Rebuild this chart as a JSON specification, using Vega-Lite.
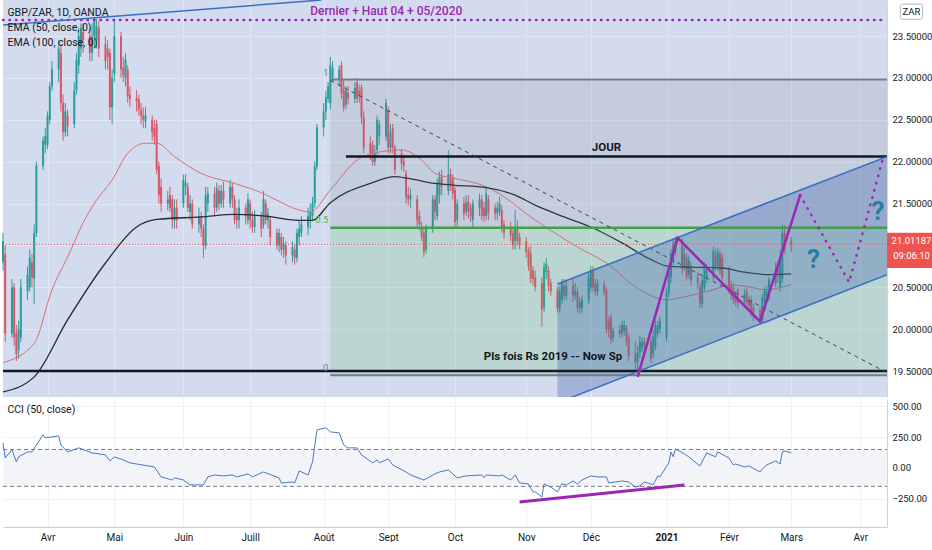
{
"$schema": "https://vega.github.io/schema/vega-lite/v6.json",
"padding": 0,
"background": "white",
"spacing": 2,
"config": {"view": {"stroke": null}, "font": "Roboto",
  "axisY": {"orient": "right", "title": null, "ticks": false, "domainColor": "#d1d4dc", "grid": true, "labelPadding": 5, "labelFontSize": 9.5, "labelColor": "#131722"}},
"datasets": {
"candles": [
{"d":"2020-03-12","o":20.80,"h":21.15,"l":20.70,"c":21.05},
{"d":"2020-03-13","o":20.90,"h":21.00,"l":19.85,"c":19.95},
{"d":"2020-03-16","o":19.95,"h":20.60,"l":19.90,"c":20.50},
{"d":"2020-03-17","o":20.50,"h":20.55,"l":19.80,"c":19.90},
{"d":"2020-03-18","o":19.95,"h":20.05,"l":19.62,"c":19.70},
{"d":"2020-03-19","o":19.75,"h":20.10,"l":19.65,"c":20.00},
{"d":"2020-03-20","o":19.90,"h":20.60,"l":19.85,"c":20.50},
{"d":"2020-03-23","o":20.45,"h":20.75,"l":20.35,"c":20.65},
{"d":"2020-03-24","o":20.50,"h":20.95,"l":20.45,"c":20.85},
{"d":"2020-03-25","o":20.80,"h":20.90,"l":20.50,"c":20.62},
{"d":"2020-03-26","o":20.60,"h":21.25,"l":20.30,"c":21.15},
{"d":"2020-03-27","o":21.15,"h":22.00,"l":21.10,"c":21.95},
{"d":"2020-03-30","o":21.95,"h":22.30,"l":21.90,"c":22.25},
{"d":"2020-03-31","o":22.20,"h":22.40,"l":22.10,"c":22.30},
{"d":"2020-04-01","o":22.20,"h":22.60,"l":22.15,"c":22.55},
{"d":"2020-04-02","o":22.50,"h":22.95,"l":22.45,"c":22.90},
{"d":"2020-04-03","o":22.90,"h":23.20,"l":22.85,"c":23.10},
{"d":"2020-04-06","o":23.10,"h":23.45,"l":22.95,"c":23.35},
{"d":"2020-04-07","o":23.30,"h":23.40,"l":22.60,"c":22.70},
{"d":"2020-04-08","o":22.70,"h":22.80,"l":22.25,"c":22.35},
{"d":"2020-04-09","o":22.35,"h":22.70,"l":22.30,"c":22.60},
{"d":"2020-04-10","o":22.55,"h":22.62,"l":22.30,"c":22.42},
{"d":"2020-04-13","o":22.45,"h":22.95,"l":22.40,"c":22.85},
{"d":"2020-04-14","o":22.85,"h":23.30,"l":22.80,"c":23.22},
{"d":"2020-04-15","o":23.15,"h":23.60,"l":23.05,"c":23.50},
{"d":"2020-04-16","o":23.35,"h":23.65,"l":23.25,"c":23.60},
{"d":"2020-04-17","o":23.55,"h":23.65,"l":23.30,"c":23.45},
{"d":"2020-04-20","o":23.50,"h":23.60,"l":23.20,"c":23.30},
{"d":"2020-04-21","o":23.30,"h":23.65,"l":23.20,"c":23.50},
{"d":"2020-04-22","o":23.50,"h":23.72,"l":23.35,"c":23.68},
{"d":"2020-04-23","o":23.45,"h":23.70,"l":23.35,"c":23.62},
{"d":"2020-04-24","o":23.60,"h":23.68,"l":23.25,"c":23.35},
{"d":"2020-04-27","o":23.40,"h":23.50,"l":23.10,"c":23.20},
{"d":"2020-04-28","o":23.35,"h":23.45,"l":23.10,"c":23.25},
{"d":"2020-04-29","o":23.30,"h":23.35,"l":22.50,"c":22.65},
{"d":"2020-04-30","o":22.65,"h":23.10,"l":22.45,"c":23.00},
{"d":"2020-05-01","o":23.05,"h":23.71,"l":22.95,"c":23.50},
{"d":"2020-05-04","o":23.50,"h":23.55,"l":23.00,"c":23.10},
{"d":"2020-05-05","o":23.12,"h":23.25,"l":22.95,"c":23.03},
{"d":"2020-05-06","o":23.00,"h":23.30,"l":22.90,"c":23.22},
{"d":"2020-05-07","o":23.10,"h":23.15,"l":22.70,"c":22.78},
{"d":"2020-05-08","o":22.80,"h":22.90,"l":22.65,"c":22.75},
{"d":"2020-05-11","o":22.76,"h":22.85,"l":22.60,"c":22.72},
{"d":"2020-05-12","o":22.74,"h":22.80,"l":22.55,"c":22.62},
{"d":"2020-05-13","o":22.62,"h":22.70,"l":22.45,"c":22.55},
{"d":"2020-05-14","o":22.55,"h":22.65,"l":22.40,"c":22.50},
{"d":"2020-05-15","o":22.48,"h":22.65,"l":22.40,"c":22.55},
{"d":"2020-05-18","o":22.50,"h":22.55,"l":22.25,"c":22.35},
{"d":"2020-05-19","o":22.40,"h":22.50,"l":22.20,"c":22.30},
{"d":"2020-05-20","o":22.45,"h":22.50,"l":21.85,"c":21.90},
{"d":"2020-05-21","o":21.95,"h":22.00,"l":21.50,"c":21.60},
{"d":"2020-05-22","o":21.70,"h":21.80,"l":21.40,"c":21.50},
{"d":"2020-05-25","o":21.50,"h":21.65,"l":21.42,"c":21.55},
{"d":"2020-05-26","o":21.60,"h":21.70,"l":21.40,"c":21.45},
{"d":"2020-05-27","o":21.55,"h":21.60,"l":21.20,"c":21.30},
{"d":"2020-05-28","o":21.30,"h":21.55,"l":21.20,"c":21.45},
{"d":"2020-05-29","o":21.45,"h":21.55,"l":21.20,"c":21.30},
{"d":"2020-06-01","o":21.50,"h":21.85,"l":21.45,"c":21.78},
{"d":"2020-06-02","o":21.70,"h":21.85,"l":21.60,"c":21.75},
{"d":"2020-06-03","o":21.70,"h":21.75,"l":21.40,"c":21.45},
{"d":"2020-06-04","o":21.40,"h":21.60,"l":21.30,"c":21.50},
{"d":"2020-06-05","o":21.50,"h":21.55,"l":21.20,"c":21.25},
{"d":"2020-06-08","o":21.25,"h":21.45,"l":21.15,"c":21.35},
{"d":"2020-06-09","o":21.35,"h":21.40,"l":21.10,"c":21.20},
{"d":"2020-06-10","o":21.20,"h":21.25,"l":20.85,"c":21.00},
{"d":"2020-06-11","o":21.00,"h":21.70,"l":20.95,"c":21.60},
{"d":"2020-06-12","o":21.50,"h":21.70,"l":21.40,"c":21.62},
{"d":"2020-06-15","o":21.62,"h":21.70,"l":21.35,"c":21.45},
{"d":"2020-06-16","o":21.45,"h":21.75,"l":21.40,"c":21.68},
{"d":"2020-06-17","o":21.65,"h":21.72,"l":21.42,"c":21.50},
{"d":"2020-06-18","o":21.50,"h":21.72,"l":21.45,"c":21.65},
{"d":"2020-06-19","o":21.65,"h":21.76,"l":21.45,"c":21.55},
{"d":"2020-06-22","o":21.50,"h":21.78,"l":21.45,"c":21.70},
{"d":"2020-06-23","o":21.70,"h":21.75,"l":21.45,"c":21.55},
{"d":"2020-06-24","o":21.55,"h":21.60,"l":21.25,"c":21.30},
{"d":"2020-06-25","o":21.35,"h":21.45,"l":21.20,"c":21.30},
{"d":"2020-06-26","o":21.30,"h":21.55,"l":21.20,"c":21.45},
{"d":"2020-06-29","o":21.45,"h":21.50,"l":21.25,"c":21.35},
{"d":"2020-06-30","o":21.30,"h":21.62,"l":21.25,"c":21.55},
{"d":"2020-07-01","o":21.50,"h":21.55,"l":21.20,"c":21.30},
{"d":"2020-07-02","o":21.30,"h":21.40,"l":21.15,"c":21.22},
{"d":"2020-07-03","o":21.22,"h":21.42,"l":21.15,"c":21.35},
{"d":"2020-07-06","o":21.35,"h":21.40,"l":21.10,"c":21.20},
{"d":"2020-07-07","o":21.25,"h":21.65,"l":21.20,"c":21.55},
{"d":"2020-07-08","o":21.50,"h":21.55,"l":21.25,"c":21.30},
{"d":"2020-07-09","o":21.30,"h":21.45,"l":21.20,"c":21.38},
{"d":"2020-07-10","o":21.30,"h":21.35,"l":21.00,"c":21.10},
{"d":"2020-07-13","o":21.15,"h":21.20,"l":20.95,"c":21.00},
{"d":"2020-07-14","o":21.00,"h":21.20,"l":20.92,"c":21.15},
{"d":"2020-07-15","o":21.10,"h":21.15,"l":20.88,"c":20.95},
{"d":"2020-07-16","o":20.95,"h":21.10,"l":20.85,"c":21.02},
{"d":"2020-07-17","o":21.00,"h":21.05,"l":20.77,"c":20.88},
{"d":"2020-07-20","o":20.88,"h":21.05,"l":20.80,"c":20.98},
{"d":"2020-07-21","o":20.95,"h":21.02,"l":20.77,"c":20.85},
{"d":"2020-07-22","o":20.85,"h":21.20,"l":20.80,"c":21.15},
{"d":"2020-07-23","o":21.10,"h":21.30,"l":21.00,"c":21.20},
{"d":"2020-07-24","o":21.15,"h":21.35,"l":21.10,"c":21.25},
{"d":"2020-07-27","o":21.22,"h":21.45,"l":21.12,"c":21.35},
{"d":"2020-07-28","o":21.30,"h":21.50,"l":21.20,"c":21.40},
{"d":"2020-07-29","o":21.35,"h":21.58,"l":21.30,"c":21.50},
{"d":"2020-07-30","o":21.50,"h":22.00,"l":21.45,"c":21.94},
{"d":"2020-07-31","o":21.94,"h":22.45,"l":21.90,"c":22.41},
{"d":"2020-08-03","o":22.41,"h":22.70,"l":22.30,"c":22.60},
{"d":"2020-08-04","o":22.60,"h":22.85,"l":22.50,"c":22.77},
{"d":"2020-08-05","o":22.75,"h":22.95,"l":22.70,"c":22.90},
{"d":"2020-08-06","o":22.70,"h":23.25,"l":22.62,"c":23.15},
{"d":"2020-08-07","o":23.00,"h":23.20,"l":22.95,"c":23.12},
{"d":"2020-08-10","o":22.98,"h":23.15,"l":22.90,"c":23.10},
{"d":"2020-08-11","o":23.15,"h":23.20,"l":22.75,"c":22.82},
{"d":"2020-08-12","o":22.86,"h":22.98,"l":22.60,"c":22.65},
{"d":"2020-08-13","o":22.68,"h":22.90,"l":22.62,"c":22.85},
{"d":"2020-08-14","o":22.82,"h":22.90,"l":22.68,"c":22.75},
{"d":"2020-08-17","o":22.75,"h":22.95,"l":22.70,"c":22.88},
{"d":"2020-08-18","o":22.95,"h":23.00,"l":22.70,"c":22.75},
{"d":"2020-08-19","o":22.85,"h":22.92,"l":22.70,"c":22.78},
{"d":"2020-08-20","o":22.89,"h":22.92,"l":22.45,"c":22.53},
{"d":"2020-08-21","o":22.53,"h":22.60,"l":22.10,"c":22.17},
{"d":"2020-08-24","o":22.22,"h":22.30,"l":22.02,"c":22.10},
{"d":"2020-08-25","o":22.20,"h":22.25,"l":21.95,"c":22.00},
{"d":"2020-08-26","o":22.00,"h":22.20,"l":21.95,"c":22.10},
{"d":"2020-08-27","o":22.14,"h":22.55,"l":22.05,"c":22.50},
{"d":"2020-08-28","o":22.30,"h":22.50,"l":22.20,"c":22.45},
{"d":"2020-08-31","o":22.30,"h":22.75,"l":22.25,"c":22.70},
{"d":"2020-09-01","o":22.62,"h":22.66,"l":22.10,"c":22.17},
{"d":"2020-09-02","o":22.17,"h":22.45,"l":22.10,"c":22.35},
{"d":"2020-09-03","o":22.40,"h":22.45,"l":22.10,"c":22.17},
{"d":"2020-09-04","o":22.17,"h":22.20,"l":21.85,"c":21.90},
{"d":"2020-09-07","o":22.10,"h":22.15,"l":21.90,"c":21.98},
{"d":"2020-09-08","o":22.00,"h":22.08,"l":21.88,"c":21.95},
{"d":"2020-09-09","o":21.86,"h":21.90,"l":21.50,"c":21.58},
{"d":"2020-09-10","o":21.60,"h":21.70,"l":21.48,"c":21.55},
{"d":"2020-09-11","o":21.55,"h":21.68,"l":21.45,"c":21.60},
{"d":"2020-09-14","o":21.55,"h":21.60,"l":21.22,"c":21.30},
{"d":"2020-09-15","o":21.35,"h":21.42,"l":21.18,"c":21.25},
{"d":"2020-09-16","o":21.22,"h":21.28,"l":21.05,"c":21.10},
{"d":"2020-09-17","o":21.15,"h":21.20,"l":20.86,"c":20.92},
{"d":"2020-09-18","o":20.95,"h":21.25,"l":20.90,"c":21.20},
{"d":"2020-09-21","o":21.22,"h":21.60,"l":21.15,"c":21.55},
{"d":"2020-09-22","o":21.55,"h":21.60,"l":21.30,"c":21.40},
{"d":"2020-09-23","o":21.35,"h":21.80,"l":21.30,"c":21.75},
{"d":"2020-09-24","o":21.60,"h":21.88,"l":21.50,"c":21.82},
{"d":"2020-09-25","o":21.82,"h":21.90,"l":21.60,"c":21.70},
{"d":"2020-09-28","o":21.65,"h":22.14,"l":21.60,"c":21.85},
{"d":"2020-09-29","o":21.85,"h":21.92,"l":21.65,"c":21.72},
{"d":"2020-09-30","o":21.80,"h":21.85,"l":21.55,"c":21.62},
{"d":"2020-10-01","o":21.66,"h":21.70,"l":21.20,"c":21.28},
{"d":"2020-10-02","o":21.30,"h":21.55,"l":21.22,"c":21.50},
{"d":"2020-10-05","o":21.50,"h":21.58,"l":21.30,"c":21.38},
{"d":"2020-10-06","o":21.40,"h":21.60,"l":21.35,"c":21.52},
{"d":"2020-10-07","o":21.52,"h":21.60,"l":21.32,"c":21.40},
{"d":"2020-10-08","o":21.45,"h":21.50,"l":21.28,"c":21.35},
{"d":"2020-10-09","o":21.30,"h":21.55,"l":21.20,"c":21.50},
{"d":"2020-10-12","o":21.45,"h":21.62,"l":21.35,"c":21.55},
{"d":"2020-10-13","o":21.55,"h":21.60,"l":21.30,"c":21.35},
{"d":"2020-10-14","o":21.45,"h":21.52,"l":21.28,"c":21.35},
{"d":"2020-10-15","o":21.35,"h":21.70,"l":21.30,"c":21.62},
{"d":"2020-10-16","o":21.55,"h":21.60,"l":21.30,"c":21.38},
{"d":"2020-10-19","o":21.45,"h":21.50,"l":21.30,"c":21.38},
{"d":"2020-10-20","o":21.38,"h":21.52,"l":21.30,"c":21.45},
{"d":"2020-10-21","o":21.40,"h":21.58,"l":21.35,"c":21.50},
{"d":"2020-10-22","o":21.42,"h":21.48,"l":21.15,"c":21.22},
{"d":"2020-10-23","o":21.25,"h":21.30,"l":21.08,"c":21.15},
{"d":"2020-10-26","o":21.20,"h":21.28,"l":21.05,"c":21.12},
{"d":"2020-10-27","o":21.15,"h":21.20,"l":20.95,"c":21.00},
{"d":"2020-10-28","o":21.05,"h":21.42,"l":20.95,"c":21.20},
{"d":"2020-10-29","o":21.20,"h":21.30,"l":21.00,"c":21.05},
{"d":"2020-10-30","o":21.10,"h":21.15,"l":20.95,"c":21.00},
{"d":"2020-11-02","o":21.05,"h":21.10,"l":20.85,"c":20.92},
{"d":"2020-11-03","o":20.94,"h":20.98,"l":20.70,"c":20.75},
{"d":"2020-11-04","o":20.90,"h":21.00,"l":20.55,"c":20.60},
{"d":"2020-11-05","o":20.70,"h":20.75,"l":20.52,"c":20.60},
{"d":"2020-11-06","o":20.62,"h":20.70,"l":20.45,"c":20.50},
{"d":"2020-11-09","o":20.55,"h":20.62,"l":20.03,"c":20.23},
{"d":"2020-11-10","o":20.26,"h":20.80,"l":20.20,"c":20.74},
{"d":"2020-11-11","o":20.68,"h":20.85,"l":20.60,"c":20.78},
{"d":"2020-11-12","o":20.70,"h":20.75,"l":20.45,"c":20.52},
{"d":"2020-11-13","o":20.55,"h":20.60,"l":20.40,"c":20.45},
{"d":"2020-11-16","o":20.47,"h":20.50,"l":20.20,"c":20.25},
{"d":"2020-11-17","o":20.25,"h":20.50,"l":20.20,"c":20.45},
{"d":"2020-11-18","o":20.35,"h":20.60,"l":20.30,"c":20.55},
{"d":"2020-11-19","o":20.52,"h":20.60,"l":20.35,"c":20.40},
{"d":"2020-11-20","o":20.40,"h":20.58,"l":20.35,"c":20.52},
{"d":"2020-11-23","o":20.52,"h":20.60,"l":20.32,"c":20.40},
{"d":"2020-11-24","o":20.40,"h":20.55,"l":20.35,"c":20.45},
{"d":"2020-11-25","o":20.45,"h":20.50,"l":20.20,"c":20.25},
{"d":"2020-11-26","o":20.25,"h":20.38,"l":20.18,"c":20.32},
{"d":"2020-11-27","o":20.25,"h":20.40,"l":20.20,"c":20.35},
{"d":"2020-11-30","o":20.35,"h":20.68,"l":20.30,"c":20.62},
{"d":"2020-12-01","o":20.50,"h":20.75,"l":20.45,"c":20.70},
{"d":"2020-12-02","o":20.70,"h":20.75,"l":20.45,"c":20.50},
{"d":"2020-12-03","o":20.55,"h":20.60,"l":20.40,"c":20.45},
{"d":"2020-12-04","o":20.45,"h":20.60,"l":20.40,"c":20.55},
{"d":"2020-12-07","o":20.52,"h":20.58,"l":20.40,"c":20.45},
{"d":"2020-12-08","o":20.47,"h":20.50,"l":19.95,"c":20.00},
{"d":"2020-12-09","o":20.10,"h":20.15,"l":19.90,"c":20.00},
{"d":"2020-12-10","o":20.14,"h":20.18,"l":19.82,"c":19.87},
{"d":"2020-12-11","o":19.90,"h":20.02,"l":19.85,"c":19.98},
{"d":"2020-12-14","o":19.99,"h":20.05,"l":19.90,"c":19.95},
{"d":"2020-12-15","o":19.95,"h":20.10,"l":19.90,"c":20.05},
{"d":"2020-12-16","o":19.98,"h":20.10,"l":19.92,"c":20.05},
{"d":"2020-12-17","o":20.02,"h":20.05,"l":19.80,"c":19.85},
{"d":"2020-12-18","o":19.90,"h":19.95,"l":19.62,"c":19.68},
{"d":"2020-12-21","o":19.71,"h":19.85,"l":19.52,"c":19.60},
{"d":"2020-12-22","o":19.60,"h":19.80,"l":19.45,"c":19.72},
{"d":"2020-12-23","o":19.72,"h":19.92,"l":19.65,"c":19.85},
{"d":"2020-12-24","o":19.78,"h":19.90,"l":19.72,"c":19.85},
{"d":"2020-12-25","o":19.85,"h":19.90,"l":19.75,"c":19.80},
{"d":"2020-12-28","o":19.85,"h":19.90,"l":19.60,"c":19.65},
{"d":"2020-12-29","o":19.70,"h":20.00,"l":19.65,"c":19.92},
{"d":"2020-12-30","o":19.80,"h":20.10,"l":19.75,"c":20.05},
{"d":"2020-12-31","o":19.95,"h":20.10,"l":19.90,"c":20.05},
{"d":"2021-01-01","o":20.00,"h":20.15,"l":19.95,"c":20.10},
{"d":"2021-01-04","o":19.90,"h":20.50,"l":19.85,"c":20.43},
{"d":"2021-01-05","o":20.43,"h":20.72,"l":20.38,"c":20.67},
{"d":"2021-01-06","o":20.62,"h":20.95,"l":20.55,"c":20.91},
{"d":"2021-01-07","o":20.79,"h":21.08,"l":20.75,"c":21.03},
{"d":"2021-01-08","o":20.94,"h":21.10,"l":20.88,"c":21.05},
{"d":"2021-01-11","o":21.03,"h":21.08,"l":20.65,"c":20.72},
{"d":"2021-01-12","o":20.75,"h":20.98,"l":20.70,"c":20.90},
{"d":"2021-01-13","o":20.86,"h":20.90,"l":20.58,"c":20.62},
{"d":"2021-01-14","o":20.65,"h":20.88,"l":20.60,"c":20.82},
{"d":"2021-01-15","o":20.75,"h":20.80,"l":20.52,"c":20.58},
{"d":"2021-01-18","o":20.62,"h":20.68,"l":20.48,"c":20.55},
{"d":"2021-01-19","o":20.50,"h":20.55,"l":20.25,"c":20.31},
{"d":"2021-01-20","o":20.30,"h":20.65,"l":20.25,"c":20.59},
{"d":"2021-01-21","o":20.50,"h":20.80,"l":20.45,"c":20.74},
{"d":"2021-01-22","o":20.60,"h":20.78,"l":20.55,"c":20.70},
{"d":"2021-01-25","o":20.62,"h":20.98,"l":20.58,"c":20.94},
{"d":"2021-01-26","o":20.90,"h":20.96,"l":20.70,"c":20.75},
{"d":"2021-01-27","o":20.75,"h":20.97,"l":20.70,"c":20.92},
{"d":"2021-01-28","o":20.90,"h":20.94,"l":20.65,"c":20.70},
{"d":"2021-01-29","o":20.86,"h":20.90,"l":20.58,"c":20.62},
{"d":"2021-02-01","o":20.71,"h":20.75,"l":20.42,"c":20.47},
{"d":"2021-02-02","o":20.52,"h":20.58,"l":20.35,"c":20.40},
{"d":"2021-02-03","o":20.50,"h":20.55,"l":20.30,"c":20.35},
{"d":"2021-02-04","o":20.40,"h":20.45,"l":20.28,"c":20.32},
{"d":"2021-02-05","o":20.47,"h":20.50,"l":20.25,"c":20.31},
{"d":"2021-02-08","o":20.32,"h":20.48,"l":20.28,"c":20.42},
{"d":"2021-02-09","o":20.45,"h":20.50,"l":20.25,"c":20.31},
{"d":"2021-02-10","o":20.35,"h":20.40,"l":20.22,"c":20.28},
{"d":"2021-02-11","o":20.35,"h":20.40,"l":20.15,"c":20.19},
{"d":"2021-02-12","o":20.25,"h":20.30,"l":20.10,"c":20.15},
{"d":"2021-02-15","o":20.23,"h":20.26,"l":20.05,"c":20.11},
{"d":"2021-02-16","o":20.11,"h":20.42,"l":20.08,"c":20.38},
{"d":"2021-02-17","o":20.32,"h":20.50,"l":20.28,"c":20.47},
{"d":"2021-02-18","o":20.40,"h":20.52,"l":20.35,"c":20.45},
{"d":"2021-02-19","o":20.38,"h":20.62,"l":20.33,"c":20.59},
{"d":"2021-02-22","o":20.55,"h":20.80,"l":20.50,"c":20.72},
{"d":"2021-02-23","o":20.72,"h":20.80,"l":20.55,"c":20.65},
{"d":"2021-02-24","o":20.50,"h":20.95,"l":20.45,"c":20.85},
{"d":"2021-02-25","o":20.60,"h":21.25,"l":20.55,"c":21.15},
{"d":"2021-02-26","o":21.15,"h":21.24,"l":20.90,"c":20.95},
{"d":"2021-03-01","o":21.05,"h":21.10,"l":20.92,"c":21.01187}
],
"ema50": [
{"d":"2020-03-12","v":19.60},{"d":"2020-03-26","v":19.83},{"d":"2020-04-03","v":20.47},{"d":"2020-04-10","v":20.86},
{"d":"2020-04-17","v":21.27},{"d":"2020-04-23","v":21.54},{"d":"2020-04-30","v":21.78},{"d":"2020-05-07","v":22.10},
{"d":"2020-05-15","v":22.22},{"d":"2020-05-20","v":22.22},{"d":"2020-05-28","v":22.06},{"d":"2020-06-09","v":21.86},
{"d":"2020-06-24","v":21.74},{"d":"2020-07-06","v":21.63},{"d":"2020-07-13","v":21.54},{"d":"2020-07-20","v":21.45},
{"d":"2020-07-28","v":21.40},{"d":"2020-08-06","v":21.66},{"d":"2020-08-18","v":22.02},{"d":"2020-08-27","v":22.11},
{"d":"2020-09-07","v":22.14},{"d":"2020-09-16","v":22.02},{"d":"2020-09-22","v":21.86},{"d":"2020-10-01","v":21.80},
{"d":"2020-10-15","v":21.70},{"d":"2020-10-23","v":21.58},{"d":"2020-11-04","v":21.34},{"d":"2020-11-13","v":21.18},
{"d":"2020-11-25","v":20.98},{"d":"2020-12-08","v":20.79},{"d":"2020-12-23","v":20.47},{"d":"2021-01-04","v":20.35},
{"d":"2021-01-11","v":20.38},{"d":"2021-01-25","v":20.47},{"d":"2021-02-02","v":20.53},{"d":"2021-02-11","v":20.50},
{"d":"2021-02-17","v":20.47},{"d":"2021-02-23","v":20.49},{"d":"2021-03-01","v":20.53}
],
"ema100": [
{"d":"2020-03-12","v":19.25},{"d":"2020-03-26","v":19.43},{"d":"2020-04-10","v":20.11},{"d":"2020-04-27","v":20.79},
{"d":"2020-05-11","v":21.22},{"d":"2020-05-20","v":21.31},{"d":"2020-06-09","v":21.34},{"d":"2020-06-24","v":21.37},
{"d":"2020-07-08","v":21.35},{"d":"2020-07-23","v":21.30},{"d":"2020-07-29","v":21.30},{"d":"2020-08-06","v":21.51},
{"d":"2020-08-24","v":21.74},{"d":"2020-09-04","v":21.82},{"d":"2020-09-10","v":21.80},{"d":"2020-09-22","v":21.74},
{"d":"2020-09-30","v":21.72},{"d":"2020-10-15","v":21.69},{"d":"2020-10-28","v":21.60},{"d":"2020-11-06","v":21.48},
{"d":"2020-11-19","v":21.34},{"d":"2020-12-01","v":21.22},{"d":"2020-12-15","v":21.03},{"d":"2020-12-28","v":20.83},
{"d":"2021-01-05","v":20.75},{"d":"2021-01-15","v":20.74},{"d":"2021-01-29","v":20.73},{"d":"2021-02-08","v":20.68},
{"d":"2021-02-19","v":20.65},{"d":"2021-03-01","v":20.66}
],
"cci": [
{"d":"2020-03-12","v":204},{"d":"2020-03-13","v":81},{"d":"2020-03-16","v":147},{"d":"2020-03-18","v":49},
{"d":"2020-03-19","v":90},{"d":"2020-03-23","v":130},{"d":"2020-03-25","v":130},{"d":"2020-03-30","v":269},
{"d":"2020-03-31","v":244},{"d":"2020-04-06","v":261},{"d":"2020-04-07","v":187},{"d":"2020-04-10","v":130},
{"d":"2020-04-15","v":163},{"d":"2020-04-21","v":122},{"d":"2020-04-27","v":106},{"d":"2020-04-29","v":57},
{"d":"2020-05-01","v":90},{"d":"2020-05-05","v":65},{"d":"2020-05-08","v":41},{"d":"2020-05-19","v":8},
{"d":"2020-05-22","v":-73},{"d":"2020-05-27","v":-98},{"d":"2020-05-28","v":-81},{"d":"2020-06-01","v":-98},
{"d":"2020-06-04","v":-138},{"d":"2020-06-10","v":-138},{"d":"2020-06-12","v":-73},{"d":"2020-06-15","v":-57},
{"d":"2020-06-19","v":-65},{"d":"2020-06-23","v":-57},{"d":"2020-06-25","v":-73},{"d":"2020-06-30","v":-49},
{"d":"2020-07-02","v":-73},{"d":"2020-07-07","v":-33},{"d":"2020-07-14","v":-81},{"d":"2020-07-15","v":-122},
{"d":"2020-07-20","v":-114},{"d":"2020-07-21","v":-122},{"d":"2020-07-23","v":-24},{"d":"2020-07-27","v":-57},
{"d":"2020-07-29","v":49},{"d":"2020-07-31","v":309},{"d":"2020-08-04","v":326},{"d":"2020-08-06","v":293},
{"d":"2020-08-10","v":285},{"d":"2020-08-12","v":187},{"d":"2020-08-14","v":163},{"d":"2020-08-18","v":163},
{"d":"2020-08-20","v":106},{"d":"2020-08-25","v":41},{"d":"2020-08-27","v":65},{"d":"2020-08-28","v":41},
{"d":"2020-09-01","v":73},{"d":"2020-09-03","v":24},{"d":"2020-09-09","v":-33},{"d":"2020-09-11","v":-57},
{"d":"2020-09-17","v":-98},{"d":"2020-09-22","v":-49},{"d":"2020-09-24","v":-33},{"d":"2020-09-28","v":-16},
{"d":"2020-10-02","v":-81},{"d":"2020-10-06","v":-65},{"d":"2020-10-13","v":-57},{"d":"2020-10-14","v":-79},
{"d":"2020-10-15","v":-57},{"d":"2020-10-21","v":-65},{"d":"2020-10-22","v":-57},{"d":"2020-10-26","v":-98},
{"d":"2020-10-28","v":-57},{"d":"2020-10-30","v":-122},{"d":"2020-11-03","v":-130},{"d":"2020-11-05","v":-195},
{"d":"2020-11-06","v":-195},{"d":"2020-11-09","v":-236},{"d":"2020-11-10","v":-130},{"d":"2020-11-13","v":-155},
{"d":"2020-11-16","v":-195},{"d":"2020-11-18","v":-130},{"d":"2020-11-20","v":-138},{"d":"2020-11-23","v":-106},
{"d":"2020-11-25","v":-130},{"d":"2020-11-27","v":-98},{"d":"2020-12-01","v":-65},{"d":"2020-12-04","v":-73},
{"d":"2020-12-08","v":-73},{"d":"2020-12-09","v":-122},{"d":"2020-12-15","v":-106},{"d":"2020-12-18","v":-114},
{"d":"2020-12-21","v":-155},{"d":"2020-12-23","v":-147},{"d":"2020-12-25","v":-114},{"d":"2020-12-29","v":-138},
{"d":"2020-12-31","v":-65},{"d":"2021-01-01","v":-73},{"d":"2021-01-05","v":41},{"d":"2021-01-06","v":130},
{"d":"2021-01-07","v":90},{"d":"2021-01-08","v":155},{"d":"2021-01-12","v":114},{"d":"2021-01-14","v":90},
{"d":"2021-01-19","v":16},{"d":"2021-01-22","v":122},{"d":"2021-01-26","v":90},{"d":"2021-01-27","v":130},
{"d":"2021-02-01","v":81},{"d":"2021-02-03","v":24},{"d":"2021-02-04","v":32},{"d":"2021-02-08","v":8},
{"d":"2021-02-10","v":16},{"d":"2021-02-15","v":-33},{"d":"2021-02-16","v":-8},{"d":"2021-02-18","v":24},
{"d":"2021-02-22","v":57},{"d":"2021-02-24","v":32},{"d":"2021-02-25","v":130},{"d":"2021-02-26","v":138},
{"d":"2021-03-01","v":122}
]
},
"vconcat": [
{
"width": 884, "height": 397,
"view": {"fill": "#d2dcee", "stroke": null},
"encoding": {"x": {"field": "d", "type": "temporal",
  "scale": {"type": "utc", "padding": 0, "domain": [{"year":2020,"month":3,"date":12,"utc":true},{"year":2021,"month":4,"date":13,"utc":true}]},
  "axis": {"title": null, "labels": false, "ticks": false, "domain": false, "grid": true, "gridColor": "#e0e7f3",
    "values": [{"year":2020,"month":4,"date":1,"utc":true},{"year":2020,"month":5,"date":1,"utc":true},{"year":2020,"month":6,"date":1,"utc":true},{"year":2020,"month":7,"date":1,"utc":true},{"year":2020,"month":8,"date":3,"utc":true},{"year":2020,"month":9,"date":1,"utc":true},{"year":2020,"month":10,"date":1,"utc":true},{"year":2020,"month":11,"date":2,"utc":true},{"year":2020,"month":12,"date":1,"utc":true},{"year":2021,"month":1,"date":4,"utc":true},{"year":2021,"month":2,"date":1,"utc":true},{"year":2021,"month":3,"date":1,"utc":true},{"year":2021,"month":4,"date":1,"utc":true}]}},
  "y": {"field": "p", "type": "quantitative", "scale": {"domain": [19.19, 23.93], "nice": false, "zero": false},
    "axis": {"orient": "right", "title": null, "values": [19.5,20,20.5,21,21.5,22,22.5,23,23.5], "labelExpr": "datum.value == 21 ? '' : format(datum.value, '.5f')", "gridColor": "#e0e7f3"}}},
"layer": [
{"data": {"name": "candles"}, "mark": {"type": "rule", "strokeWidth": 1},
 "encoding": {"y": {"field": "l", "type": "quantitative", "scale": {"domain": [19.19, 23.93], "nice": false, "zero": false},
   "axis": {"orient": "right", "title": null, "values": [19.5,20,20.5,21,21.5,22,22.5,23,23.5], "labelExpr": "datum.value == 21 ? '' : format(datum.value, '.5f')", "gridColor": "#e0e7f3"}},
   "y2": {"field": "h"},
   "color": {"condition": {"test": "datum.c >= datum.o", "value": "#2b9c9a"}, "value": "#d6576a"}}},
{"data": {"name": "candles"}, "mark": {"type": "bar", "size": 2},
 "encoding": {"y": {"field": "o", "type": "quantitative", "scale": {"domain": [19.19, 23.93], "nice": false, "zero": false},
   "axis": {"orient": "right", "title": null, "values": [19.5,20,20.5,21,21.5,22,22.5,23,23.5], "labelExpr": "datum.value == 21 ? '' : format(datum.value, '.5f')", "gridColor": "#e0e7f3"}},
   "y2": {"field": "c"},
   "color": {"condition": {"test": "datum.c >= datum.o", "value": "#2b9c9a"}, "value": "#d6576a"}}},
{"data": {"name": "ema50"}, "mark": {"type": "line", "color": "#d9706e", "strokeWidth": 1, "interpolate": "monotone"},
 "encoding": {"y": {"field": "v", "type": "quantitative", "scale": {"domain": [19.19, 23.93], "nice": false, "zero": false},
   "axis": {"orient": "right", "title": null, "values": [19.5,20,20.5,21,21.5,22,22.5,23,23.5], "labelExpr": "datum.value == 21 ? '' : format(datum.value, '.5f')", "gridColor": "#e0e7f3"}}}},
{"data": {"name": "ema100"}, "mark": {"type": "line", "color": "#262a33", "strokeWidth": 1.3, "interpolate": "monotone"},
 "encoding": {"y": {"field": "v", "type": "quantitative", "scale": {"domain": [19.19, 23.93], "nice": false, "zero": false},
   "axis": {"orient": "right", "title": null, "values": [19.5,20,20.5,21,21.5,22,22.5,23,23.5], "labelExpr": "datum.value == 21 ? '' : format(datum.value, '.5f')", "gridColor": "#e0e7f3"}}}},
{"data": {"values": [{"d":"2020-08-06","d2":"2021-04-13","p":21.21,"b":22.98}]}, "mark": {"type": "rect", "color": "#787b86", "opacity": 0.15},
 "encoding": {"x2": {"field": "d2"}, "y2": {"field": "b"}}},
{"data": {"values": [{"d":"2020-08-06","d2":"2021-04-13","p":19.45,"b":21.21}]}, "mark": {"type": "rect", "color": "#4caf50", "opacity": 0.17},
 "encoding": {"x2": {"field": "d2"}, "y2": {"field": "b"}}},
{"data": {"values": [{"d":"2020-11-16","p":19.12,"up":20.54},{"d":"2021-04-13","p":20.65,"up":22.06}]}, "mark": {"type": "area", "color": "#3c64aa", "opacity": 0.33, "clip": true},
 "encoding": {"y2": {"field": "up"}}},
{"data": {"values": [{"d":"2020-08-06","d2":"2021-04-13","p":22.98},{"d":"2020-08-06","d2":"2021-04-13","p":19.45}]}, "mark": {"type": "rule", "color": "#787b86", "strokeWidth": 2},
 "encoding": {"x2": {"field": "d2"}}},
{"data": {"values": [{"d":"2020-08-06","d2":"2021-04-13","p":21.21}]}, "mark": {"type": "rule", "color": "#43a047", "strokeWidth": 2.5},
 "encoding": {"x2": {"field": "d2"}}},
{"data": {"values": [{"d":"2020-08-13","d2":"2021-04-13","p":22.06},{"d":"2020-03-12","d2":"2021-04-13","p":19.5}]}, "mark": {"type": "rule", "color": "#131722", "strokeWidth": 2.5},
 "encoding": {"x2": {"field": "d2"}}},
{"data": {"values": [{"d":"2020-03-12","d2":"2021-04-13","p":23.69}]}, "mark": {"type": "rule", "color": "#9c27b0", "strokeWidth": 2.5, "strokeDash": [0.5, 6], "strokeCap": "round"},
 "encoding": {"x2": {"field": "d2"}}},
{"data": {"values": [{"d":"2020-03-12","d2":"2021-04-13","p":21.01187}]}, "mark": {"type": "rule", "color": "#ef5350", "strokeWidth": 1, "strokeDash": [1, 2]},
 "encoding": {"x2": {"field": "d2"}}},
{"data": {"values": [{"d":"2020-08-06","d2":"2021-04-13","p":22.97,"p2":19.48}]}, "mark": {"type": "rule", "color": "#434651", "strokeWidth": 1, "strokeDash": [4, 4]},
 "encoding": {"x2": {"field": "d2"}, "y2": {"field": "p2"}}},
{"data": {"values": [{"d":"2020-11-16","d2":"2021-04-13","p":20.54,"p2":22.06},{"d":"2020-11-16","d2":"2021-04-13","p":19.12,"p2":20.65},{"d":"2020-03-12","d2":"2020-08-02","p":23.63,"p2":23.93}]}, "mark": {"type": "rule", "color": "#3b6fc0", "strokeWidth": 1.5, "clip": true},
 "encoding": {"x2": {"field": "d2"}, "y2": {"field": "p2"}}},
{"data": {"values": [{"d":"2020-12-22","p":19.43},{"d":"2021-01-09","p":21.09},{"d":"2021-02-15","p":20.09},{"d":"2021-03-05","p":21.60}]}, "mark": {"type": "line", "color": "#9c27b0", "strokeWidth": 2.5}},
{"data": {"values": [{"d":"2021-03-05","p":21.60},{"d":"2021-03-27","p":20.56},{"d":"2021-04-11","p":22.02}]}, "mark": {"type": "line", "color": "#9c27b0", "strokeWidth": 2.5, "strokeDash": [0.5, 7], "strokeCap": "round"}},
{"data": {"values": [{"d":"2020-03-14","p":23.775,"t":"GBP/ZAR, 1D, OANDA"},{"d":"2020-03-14","p":23.595,"t":"EMA (50, close, 0)"},{"d":"2020-03-14","p":23.415,"t":"EMA (100, close, 0)"}]}, "mark": {"type": "text", "align": "left", "baseline": "middle", "fontSize": 10.5, "color": "#131722"},
 "encoding": {"text": {"field": "t"}}},
{"data": {"values": [{"d":"2020-07-28","p":23.80,"t":"Dernier + Haut 04 + 05/2020"}]}, "mark": {"type": "text", "align": "left", "baseline": "middle", "fontSize": 12, "fontWeight": 500, "color": "#9c27b0"},
 "encoding": {"text": {"field": "t"}}},
{"data": {"values": [{"d":"2020-12-08","p":22.16,"t":"JOUR"},{"d":"2020-11-14","p":19.667,"t":"Pls fois Rs 2019 -- Now Sp"}]}, "mark": {"type": "text", "align": "center", "baseline": "middle", "fontSize": 11.5, "fontWeight": "bold", "color": "#131722"},
 "encoding": {"text": {"field": "t"}}},
{"data": {"values": [{"d":"2020-08-06","p":23.06,"t":"1"},{"d":"2020-08-06","p":21.30,"t":"0.5"},{"d":"2020-08-06","p":19.54,"t":"0"}]}, "mark": {"type": "text", "align": "right", "baseline": "middle", "dx": -2, "fontSize": 9.5},
 "encoding": {"text": {"field": "t"}, "color": {"condition": {"test": "datum.t == '0.5'", "value": "#4caf50"}, "value": "#787b86"}}},
{"data": {"values": [{"d":"2021-03-11","p":20.83},{"d":"2021-04-09","p":21.40}]}, "mark": {"type": "text", "text": "?", "align": "center", "baseline": "middle", "fontSize": 26, "fontWeight": "bold", "color": "#2a7ca6"}},
{"data": {"values": [{"d":"2021-04-13","d2":"2021-05-05","p":20.73,"b":21.15}]}, "mark": {"type": "rect", "color": "#ef5350", "cornerRadius": 1},
 "encoding": {"x2": {"field": "d2"}, "y2": {"field": "b"}}},
{"data": {"values": [{"d":"2021-04-19","d2":"2021-04-29","p":23.70,"b":23.88}]}, "mark": {"type": "rect", "fill": "white", "stroke": "#b2b5be", "strokeWidth": 1, "cornerRadius": 2},
 "encoding": {"x2": {"field": "d2"}, "y2": {"field": "b"}}},
{"data": {"values": [{"d":"2021-04-24","p":21.055,"t":"21.01187","k":"w"},{"d":"2021-04-24","p":20.873,"t":"09:06:10","k":"w"},{"d":"2021-04-24","p":23.79,"t":"ZAR","k":"d"}]}, "mark": {"type": "text", "align": "center", "baseline": "middle", "fontSize": 9.5},
 "encoding": {"text": {"field": "t"}, "color": {"condition": {"test": "datum.k == 'w'", "value": "#ffffff"}, "value": "#131722"}}}
]
},
{
"width": 884, "height": 128,
"view": {"fill": "#ffffff", "stroke": null},
"encoding": {"x": {"field": "d", "type": "temporal",
  "scale": {"type": "utc", "padding": 0, "domain": [{"year":2020,"month":3,"date":12,"utc":true},{"year":2021,"month":4,"date":13,"utc":true}]},
  "axis": {"title": null, "ticks": false, "domainColor": "#c9ccd4", "grid": true, "gridColor": "#eef1f6", "labelPadding": 5, "labelFontSize": 10, "labelColor": "#131722",
    "labelExpr": "utcmonth(datum.value) == 0 ? utcFormat(datum.value, '%Y') : ['Janv','Févr','Mars','Avr','Mai','Juin','Juill','Août','Sept','Oct','Nov','Déc'][utcmonth(datum.value)]",
    "labelFontWeight": {"condition": {"test": "utcmonth(datum.value) == 0", "value": "bold"}, "value": "normal"},
    "values": [{"year":2020,"month":4,"date":1,"utc":true},{"year":2020,"month":5,"date":1,"utc":true},{"year":2020,"month":6,"date":1,"utc":true},{"year":2020,"month":7,"date":1,"utc":true},{"year":2020,"month":8,"date":3,"utc":true},{"year":2020,"month":9,"date":1,"utc":true},{"year":2020,"month":10,"date":1,"utc":true},{"year":2020,"month":11,"date":2,"utc":true},{"year":2020,"month":12,"date":1,"utc":true},{"year":2021,"month":1,"date":4,"utc":true},{"year":2021,"month":2,"date":1,"utc":true},{"year":2021,"month":3,"date":1,"utc":true},{"year":2021,"month":4,"date":1,"utc":true}]}},
  "y": {"field": "p", "type": "quantitative", "scale": {"domain": [-480, 560], "nice": false, "zero": false},
    "axis": {"orient": "right", "title": null, "values": [-250, 0, 250, 500], "format": ".2f", "gridColor": "#eef1f6"}}},
"layer": [
{"data": {"values": [{"d":"2020-03-12","d2":"2021-04-13","p":-150,"b":150}]}, "mark": {"type": "rect", "color": "#f3f4f7"},
 "encoding": {"x2": {"field": "d2"}, "y2": {"field": "b"}}},
{"data": {"values": [{"d":"2020-03-12","d2":"2021-04-13","p":150},{"d":"2020-03-12","d2":"2021-04-13","p":-150}]}, "mark": {"type": "rule", "color": "#787b86", "strokeWidth": 1, "strokeDash": [4, 3]},
 "encoding": {"x2": {"field": "d2"}}},
{"data": {"name": "cci"}, "mark": {"type": "line", "color": "#4a78c0", "strokeWidth": 1},
 "encoding": {"y": {"field": "v", "type": "quantitative", "scale": {"domain": [-480, 560], "nice": false, "zero": false},
   "axis": {"orient": "right", "title": null, "values": [-250, 0, 250, 500], "format": ".2f", "gridColor": "#eef1f6"}}}},
{"data": {"values": [{"d":"2020-10-30","d2":"2021-01-12","p":-277,"p2":-138}]}, "mark": {"type": "rule", "color": "#9c27b0", "strokeWidth": 3},
 "encoding": {"x2": {"field": "d2"}, "y2": {"field": "p2"}}},
{"data": {"values": [{"d":"2020-03-14","p":472,"t":"CCI (50, close)"}]}, "mark": {"type": "text", "align": "left", "baseline": "middle", "fontSize": 10.5, "color": "#131722"},
 "encoding": {"text": {"field": "t"}}}
]
}
]
}
